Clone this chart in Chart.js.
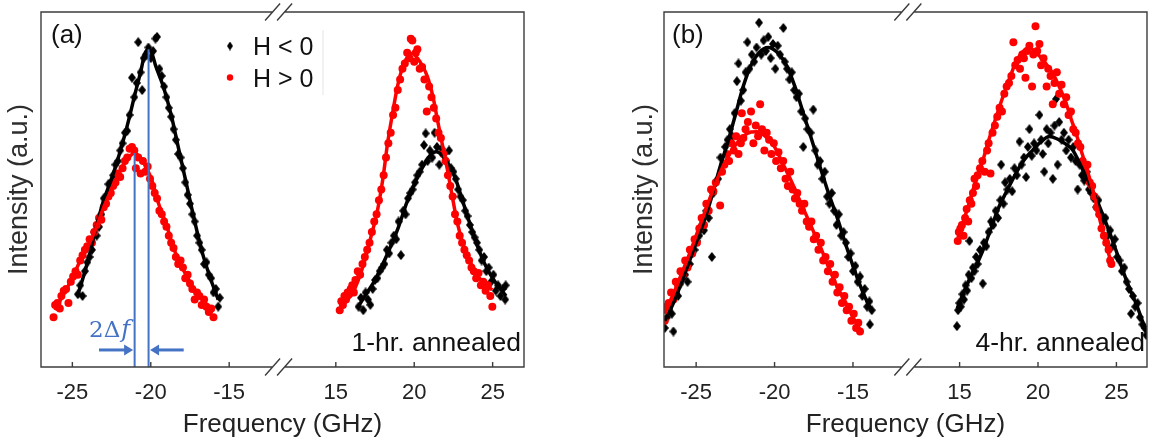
<!DOCTYPE html>
<html><head><meta charset="utf-8">
<script src="https://cdn.jsdelivr.net/npm/chart.js@4/dist/chart.umd.min.js"></script>
<style>
html,body{margin:0;padding:0;background:#fff;}
#wrap{position:relative;width:1158px;height:441px;overflow:hidden;}
canvas{position:absolute;top:0;}
</style></head><body>
<div id="wrap"><canvas id="ca" width="580" height="441" style="left:0"></canvas><canvas id="cb" width="578" height="441" style="left:580px"></canvas></div>
<script>
// ---------- data (frequency in GHz, intensity in a.u. 0-100) ----------
const freqTicks = [-25, -20, -15, 15, 20, 25];
const seriesNames = ['H < 0', 'H > 0'];

// Panel (a): 1-hr. annealed
const aNegPts = [[-24.65,20.5],[-24.5,23],[-24.35,20],[-24.2,27],[-24.05,29.5],[-23.9,31],[-23.75,33],[-23.6,38],[-23.45,37],[-23.3,39.5],[-23.15,43],[-23.0,47.5],[-22.85,48],[-22.7,51.5],[-22.55,52],[-22.4,54],[-22.25,57],[-22.1,58],[-21.95,61],[-21.8,63],[-21.65,66],[-21.5,66.5],[-21.35,71],[-21.2,81.5],[-21.05,76],[-20.9,80],[-20.8,91.5],[-20.65,83],[-20.55,78],[-20.45,87],[-20.3,88],[-20.15,90],[-20.0,87],[-19.85,89],[-19.7,92.5],[-19.6,93],[-19.45,84],[-19.3,82],[-19.15,79],[-19.0,76],[-18.85,73],[-18.7,70.5],[-18.55,67],[-18.4,64],[-18.25,60],[-18.1,59],[-17.95,56],[-17.8,52],[-17.65,48.5],[-17.5,46],[-17.35,43],[-17.2,41],[-17.05,37],[-16.9,35],[-16.75,33],[-16.6,29],[-16.45,29.5],[-16.3,26],[-16.15,25],[-16.0,21],[-15.85,22],[-15.7,17],[-15.6,19.5],
 [16.45,17],[16.6,19.5],[16.75,16],[16.9,21],[17.05,19],[17.2,17.5],[17.35,22],[17.5,24.5],[17.65,25],[17.8,27],[17.95,28],[18.1,29],[18.25,33],[18.4,32],[18.55,35],[18.7,37],[18.85,36],[19.0,41],[19.15,31.5],[19.3,44],[19.45,43],[19.6,47.5],[19.75,49],[19.9,50],[20.05,52],[20.2,54],[20.35,55],[20.5,57],[20.62,62.5],[20.73,65.8],[20.85,58],[21.0,61],[21.15,59],[21.3,66],[21.45,62],[21.6,57],[21.75,61.5],[21.9,60],[22.05,58],[22.22,61],[22.35,56],[22.5,55],[22.65,53],[22.8,50],[22.95,48],[23.1,47],[23.25,44],[23.4,42.5],[23.55,40],[23.7,38],[23.85,36.5],[24.0,35],[24.15,33],[24.3,30],[24.45,31],[24.6,27],[24.75,28],[24.9,24],[25.05,26],[25.2,21.5],[25.35,23],[25.5,20],[25.65,22],[25.83,23],[25.8,19]];
const aPosPts = [[-26.2,14],[-26.1,17.5],[-25.95,18],[-25.8,16.5],[-25.7,20],[-25.55,21.5],[-25.4,22],[-25.25,18],[-25.1,24],[-24.95,25.5],[-24.8,27],[-24.65,26],[-24.5,30],[-24.35,31.5],[-24.2,33],[-24.05,34],[-23.9,36],[-23.75,35],[-23.6,38],[-23.45,40],[-23.3,42],[-23.15,41.5],[-23.0,45],[-22.85,46],[-22.7,48],[-22.55,49],[-22.4,51],[-22.25,52],[-22.1,54.5],[-21.95,53.5],[-21.8,56],[-21.65,58],[-21.5,59],[-21.35,61.5],[-21.2,62],[-21.05,61],[-20.95,56],[-20.8,59],[-20.65,54.5],[-20.5,58],[-20.35,55],[-20.2,56.5],[-20.05,53],[-19.9,51],[-19.75,49],[-19.6,47.5],[-19.45,44],[-19.3,43],[-19.15,41],[-19.0,39.5],[-18.85,37],[-18.7,35],[-18.55,33.5],[-18.4,31],[-18.25,29],[-18.1,30],[-17.95,28],[-17.8,25],[-17.65,26],[-17.5,23.5],[-17.35,22],[-17.2,19],[-17.05,21],[-16.9,20],[-16.75,17.5],[-16.6,19],[-16.45,17],[-16.3,15.5],[-16.15,16.5],[-16.0,14],
 [15.25,16],[15.35,18.5],[15.45,17.5],[15.55,20],[15.65,19],[15.75,21],[15.85,20.5],[15.95,22],[16.05,23],[16.15,21],[16.25,24.5],[16.4,27],[16.55,26],[16.7,29],[16.85,31],[17.0,33],[17.15,35],[17.3,38],[17.45,41],[17.6,43],[17.75,47],[17.9,50],[18.05,54],[18.2,59],[18.35,63],[18.5,66],[18.65,71],[18.8,73],[18.95,78],[19.1,81],[19.25,84],[19.4,85.5],[19.55,88.5],[19.7,87],[19.78,92.5],[19.88,92],[20.0,86],[20.1,88.5],[20.2,89.5],[20.35,84],[20.5,84.5],[20.65,81],[20.8,72],[20.95,79],[21.1,76],[21.25,73],[21.4,70],[21.55,66],[21.7,64.5],[21.85,60],[22.0,58],[22.15,54],[22.3,51],[22.45,48],[22.6,43],[22.75,41],[22.9,37],[23.05,35],[23.2,33],[23.35,31.5],[23.5,30],[23.65,28],[23.8,27],[23.95,25],[24.1,26.5],[24.25,23],[24.4,24],[24.55,21.5],[24.7,23],[24.85,20],[24.98,17]];
const aNegFit = [[-24.6,21],[-24.0,30],[-23.5,39],[-23.0,47],[-22.5,53],[-22.0,60],[-21.5,68],[-21.0,77],[-20.6,84],[-20.4,88],[-20.15,89.5],[-19.9,88],[-19.7,85],[-19.2,79],[-18.7,71],[-18.2,61],[-17.7,51],[-17.2,41],[-16.7,32],[-16.2,25],[-15.7,19],
 [16.5,17.5],[17.0,21],[17.5,24.5],[18.0,29],[18.5,34],[19.0,39.5],[19.5,46],[20.0,51.5],[20.5,56],[21.0,59.5],[21.4,60.6],[21.8,59.5],[22.2,57],[22.6,53.5],[23.0,48],[23.5,41],[24.0,34.5],[24.5,29],[25.0,25],[25.5,22],[25.85,20]];
const aPosFit = [[-26.1,16],[-25.5,21],[-25.0,25],[-24.5,30],[-24.0,34],[-23.5,39],[-23.0,45],[-22.5,50],[-22.0,55],[-21.5,58.5],[-21.03,60.3],[-20.6,58.5],[-20.0,53.5],[-19.5,46],[-19.0,40],[-18.5,33],[-18.0,28],[-17.5,24],[-17.0,20.5],[-16.5,18],[-16.0,15.5],
 [15.3,17],[15.75,18.9],[16.2,22],[16.8,29.3],[17.2,36],[17.66,44.2],[18.0,53],[18.3,63],[18.6,71],[18.93,79],[19.3,85],[19.6,87.5],[19.89,88.4],[20.2,87],[20.5,85],[20.84,81.8],[21.2,76],[21.48,69.6],[21.8,62.5],[22.12,55.5],[22.45,47.5],[22.75,40.5],[23.2,33.5],[23.6,29.3],[24.0,26],[24.45,23.6],[24.98,21.7]];
// shift marker (2Δf) in panel (a)
const shiftFreqs = [-21.03, -20.14];
const shiftPeaks = [60.3, 89.5];
const arrowTails = [-23.3, -17.9];
const arrowLevel = 4.8;

// Panel (b): 4-hr. annealed
const bNegPts = [[-27.0,11],[-26.85,14],[-26.7,16.5],[-26.55,15],[-26.45,10],[-26.3,21],[-26.15,20],[-26.0,23.5],[-25.85,25],[-25.7,26],[-25.55,24],[-25.4,29],[-25.25,32],[-25.1,33],[-24.95,35.5],[-24.8,37],[-24.65,40],[-24.5,38.5],[-24.35,44],[-24.2,42],[-24.0,31],[-23.9,49],[-23.75,52],[-23.6,53],[-23.45,59],[-23.3,57],[-23.15,62],[-23.0,64],[-22.85,67],[-22.7,65],[-22.55,71.5],[-22.4,80.5],[-22.3,85.5],[-22.15,75],[-22.0,78],[-21.85,83],[-21.73,91.5],[-21.6,84],[-21.45,88],[-21.3,86],[-21.15,90],[-20.99,97],[-20.85,88],[-20.7,92],[-20.55,89],[-20.4,93],[-20.25,87],[-20.1,91],[-19.95,84],[-19.8,90.5],[-19.65,88],[-19.44,95.5],[-19.35,86],[-19.2,84],[-19.05,81],[-18.9,83],[-18.75,78],[-18.6,76],[-18.45,77],[-18.3,72],[-18.17,62],[-18.05,70],[-17.9,67],[-17.7,66],[-17.53,72.5],[-17.4,61],[-17.25,57],[-17.1,58],[-16.95,53],[-16.8,55],[-16.65,48],[-16.5,46],[-16.35,49],[-16.2,44],[-16.05,40],[-15.9,43],[-15.75,37],[-15.6,38],[-15.45,35],[-15.3,31],[-15.15,32],[-15.0,27],[-14.85,28.5],[-14.7,24],[-14.55,25.5],[-14.4,20],[-14.25,22],[-14.1,17],[-13.95,18.5],[-13.92,12],[-13.8,16],
 [14.83,11.5],[14.9,16],[14.98,18],[15.08,17],[15.18,20.5],[15.28,19],[15.38,23],[15.48,21.5],[15.58,26],[15.63,35.5],[15.75,25],[15.85,28],[15.95,27],[16.05,31],[16.15,29],[16.3,33],[16.48,23.5],[16.55,35],[16.7,34],[16.85,38],[17.0,41],[17.15,40],[17.3,44],[17.45,42],[17.6,47],[17.65,57],[17.8,46],[17.9,52],[18.05,50],[18.2,53],[18.35,49.5],[18.5,56],[18.65,54],[18.82,63.5],[18.95,57],[19.1,59],[19.24,53.5],[19.35,62],[19.45,67],[19.6,59.5],[19.75,63],[19.9,61],[20.09,71],[20.2,64],[20.3,60],[20.4,55],[20.55,67],[20.65,63],[20.8,66],[20.94,53],[21.05,68],[21.15,75.5],[21.25,57],[21.35,69],[21.5,64],[21.65,66],[21.8,61],[21.95,64],[22.1,59],[22.25,62],[22.4,58],[22.53,50],[22.65,57],[22.8,54],[22.95,52.5],[23.1,55],[23.25,50],[23.4,49],[23.55,47.5],[23.7,45],[23.85,47],[24.0,43],[24.15,41],[24.3,42],[24.45,37],[24.6,38.5],[24.75,34],[24.9,36],[25.05,31],[25.2,30],[25.35,27],[25.5,28],[25.65,24],[25.8,22],[25.93,15],[26.05,20],[26.2,17],[26.35,18],[26.5,14],[26.65,12],[26.8,11],[26.9,9]];
const bPosPts = [[-27.0,13],[-26.9,17],[-26.75,18],[-26.6,21],[-26.45,19],[-26.3,24],[-26.15,23],[-26.0,27],[-25.85,26],[-25.7,30],[-25.55,28],[-25.4,33],[-25.25,32],[-25.1,36],[-24.95,35],[-24.8,39],[-24.65,42],[-24.5,40],[-24.35,46],[-24.2,44],[-24.05,50],[-23.9,49.5],[-23.75,52],[-23.47,45.5],[-23.35,55],[-23.2,57],[-23.05,60],[-22.9,58],[-22.75,63],[-22.6,61],[-22.45,65],[-22.3,60],[-22.15,63],[-22.09,71.5],[-21.99,64.5],[-21.85,67],[-21.7,69],[-21.5,72],[-21.35,63],[-21.2,68],[-21.05,65],[-20.92,74],[-20.8,67],[-20.65,61],[-20.5,66],[-20.35,64],[-20.2,60],[-20.05,63],[-19.9,58],[-19.75,60.5],[-19.6,56],[-19.45,58],[-19.3,53],[-19.15,51],[-19.0,55],[-18.85,50],[-18.7,47.5],[-18.55,49],[-18.4,46],[-18.25,44],[-18.1,46],[-17.95,41],[-17.8,39.5],[-17.65,41],[-17.5,36],[-17.35,37],[-17.2,33],[-17.05,35],[-16.9,30],[-16.75,31],[-16.6,27],[-16.45,29],[-16.3,24],[-16.15,26],[-16.0,21],[-15.85,22.5],[-15.7,18],[-15.55,20],[-15.4,16],[-15.25,17],[-15.1,13],[-14.95,15],[-14.8,11],[-14.66,12.5],[-14.55,10],
 [14.88,35.5],[14.95,38],[15.05,39],[15.15,40],[15.25,37],[15.35,42],[15.45,44.5],[15.55,41],[15.65,47],[15.75,46],[15.85,49],[15.95,53],[16.05,51],[16.15,54],[16.3,56],[16.45,58],[16.6,55],[16.75,61],[16.85,63],[16.97,54.5],[17.1,66],[17.25,68],[17.4,70.5],[17.55,73],[17.7,72],[17.85,77],[18.0,79],[18.15,80],[18.3,82],[18.43,91.5],[18.55,85],[18.7,86.5],[18.85,84],[19.0,88],[19.1,87],[19.2,81.5],[19.3,89],[19.45,90.5],[19.62,79],[19.7,88],[19.84,96],[19.95,89],[20.09,91],[20.2,85],[20.35,87],[20.55,79],[20.65,84],[20.8,82],[20.94,74],[21.05,80],[21.2,83],[21.35,77],[21.5,79.5],[21.65,74],[21.8,76],[21.95,71],[22.1,72],[22.25,67],[22.4,66],[22.55,63],[22.7,62],[22.85,58],[23.0,56],[23.15,57],[23.3,52],[23.45,51],[23.6,48],[23.75,45],[23.9,43],[24.05,39],[24.2,37],[24.35,35],[24.5,33],[24.6,30],[24.68,29]];
const bNegFit = [[-27.0,13],[-26.5,17.5],[-26.0,23],[-25.5,29],[-25.0,35],[-24.5,41],[-24.0,48],[-23.5,56],[-23.0,63],[-22.5,71],[-22.0,79],[-21.5,85],[-21.0,88.5],[-20.41,90],[-19.8,88.5],[-19.2,84.6],[-18.7,79],[-18.2,72],[-17.7,65],[-17.1,56.4],[-16.6,49.5],[-16.0,42],[-15.5,35],[-15.0,28.5],[-14.5,22.5],[-14.0,17.5],[-13.8,16],
 [14.85,16.5],[15.4,22.5],[16.0,28],[16.5,33],[17.0,39],[17.5,45],[18.0,49.5],[18.6,54.6],[19.1,58.3],[19.66,61.1],[20.2,63.5],[20.73,64.9],[21.2,64.3],[21.7,63],[22.21,61.1],[22.75,56.5],[23.28,51.7],[23.8,46.5],[24.34,40.5],[24.9,33.8],[25.4,27.3],[25.85,22],[26.25,17.9],[26.67,12.8],[26.9,10]];
const bPosFit = [[-27.0,15],[-26.5,20],[-26.0,25.5],[-25.5,31],[-25.0,37],[-24.5,43],[-24.0,49],[-23.5,54.5],[-23.0,59],[-22.5,62.5],[-22.0,65],[-21.5,66.2],[-21.13,66.3],[-20.6,65],[-20.0,62],[-19.5,57.5],[-19.0,53],[-18.5,48],[-18.0,43],[-17.5,38],[-17.0,33],[-16.5,27.5],[-16.0,22.5],[-15.5,18.5],[-15.0,14],[-14.55,10.5],
 [14.9,36.5],[15.2,40.5],[15.6,46],[16.0,52],[16.5,58.5],[16.9,64.5],[17.3,70],[17.75,76],[18.2,81.5],[18.6,86],[19.0,88.7],[19.45,89.8],[19.9,88.5],[20.4,86],[20.94,82.7],[21.4,78.5],[21.79,74.3],[22.1,70],[22.43,65.8],[22.75,61],[23.07,56.4],[23.4,51.5],[23.7,46.1],[24.0,40.5],[24.34,34.8],[24.66,29.2]];

// ---------- helpers ----------
const OFFSET = 23.2;            // width of the removed (broken) frequency range
const FONT = "'Liberation Sans', Arial, Helvetica, sans-serif";
const TXT = '#222222';
const BLUE = '#4472C4';
const RED = '#ff0000';
const xi = f => (f > 0 ? f - OFFSET : f);
const toPts = arr => arr.map(p => ({x: xi(p[0]), y: p[1]}));
function toLine(arr) {
  const out = [];
  for (let k = 0; k < arr.length; k++) {
    if (k > 0 && Math.sign(arr[k][0]) !== Math.sign(arr[k-1][0])) {
      out.push({x: (xi(arr[k][0]) + xi(arr[k-1][0])) / 2, y: null});
    }
    out.push({x: xi(arr[k][0]), y: arr[k][1]});
  }
  return out;
}
function diamond(w, h, color) {
  const c = document.createElement('canvas'); c.width = w; c.height = h;
  const g = c.getContext('2d'); g.fillStyle = color; g.beginPath();
  g.moveTo(w/2, 0); g.lineTo(w, h/2); g.lineTo(w/2, h); g.lineTo(0, h/2); g.closePath(); g.fill();
  return c;
}
const dia = diamond(8, 10, '#000');
const diaSmall = diamond(6, 9, '#000');

const decoPlugin = {
  id: 'deco',
  afterDraw(chart, args, o) {
    const {ctx, chartArea: {left, right, top, bottom}, scales: {x, y}} = chart;
    ctx.save();
    // frame with axis break
    const bx = x.getPixelForValue(o.breakAt);
    const g = 6;
    ctx.strokeStyle = '#3c3c3c'; ctx.lineWidth = 1.4; ctx.lineCap = 'butt';
    ctx.beginPath();
    ctx.moveTo(bx - g, top); ctx.lineTo(left, top); ctx.lineTo(left, bottom); ctx.lineTo(bx - g, bottom);
    ctx.moveTo(bx + g, top); ctx.lineTo(right, top); ctx.lineTo(right, bottom); ctx.lineTo(bx + g, bottom);
    for (const yy of [top, bottom]) for (const dx of [-g, g]) {
      ctx.moveTo(bx + dx - 7.5, yy + 8.5); ctx.lineTo(bx + dx + 7.5, yy - 8.5);
    }
    // inward tick marks
    for (const f of freqTicks) {
      const px = x.getPixelForValue(xi(f));
      ctx.moveTo(px, bottom); ctx.lineTo(px, bottom - 5);
    }
    ctx.stroke();
    // panel tag and annealing note
    ctx.fillStyle = '#111';
    ctx.font = '26px ' + FONT; ctx.textAlign = 'left'; ctx.textBaseline = 'middle';
    ctx.fillText(o.tag, left + o.tagDx, top + 24);
    ctx.font = '26.5px ' + FONT; ctx.textAlign = 'right'; ctx.textBaseline = 'alphabetic';
    ctx.fillText(o.note, right - o.noteDx, bottom - 16);
    if (o.legend) {
      const lx = left + 189;
      ctx.drawImage(diaSmall, lx - 3, 46 - 4.5);
      ctx.fillStyle = RED; ctx.beginPath(); ctx.arc(lx, 77.5, 3.2, 0, Math.PI * 2); ctx.fill();
      ctx.fillStyle = '#111'; ctx.font = '25px ' + FONT; ctx.textAlign = 'left';
      ctx.fillText(seriesNames[0], lx + 23, 55);
      ctx.fillText(seriesNames[1], lx + 23, 87);
      ctx.strokeStyle = '#e4e4e4'; ctx.lineWidth = 1;
      ctx.beginPath(); ctx.moveTo(lx + 93, 30); ctx.lineTo(lx + 93, 95); ctx.stroke();
    }
    if (o.shift) {
      const ay = y.getPixelForValue(arrowLevel);
      ctx.strokeStyle = BLUE; ctx.fillStyle = BLUE; ctx.lineWidth = 3;
      for (let k = 0; k < 2; k++) {
        const tip = x.getPixelForValue(shiftFreqs[k]) + (k === 0 ? -1.5 : 1.5);
        const tail = x.getPixelForValue(arrowTails[k]);
        const dir = Math.sign(tip - tail);
        ctx.beginPath(); ctx.moveTo(tail, ay); ctx.lineTo(tip - dir * 8, ay); ctx.stroke();
        ctx.beginPath(); ctx.moveTo(tip, ay); ctx.lineTo(tip - dir * 9, ay - 5.5); ctx.lineTo(tip - dir * 9, ay + 5.5); ctx.closePath(); ctx.fill();
      }
      // 2Δf label
      const lx = x.getPixelForValue(arrowTails[0]) - 10;
      const ly = ay - 13;
      ctx.textAlign = 'left'; ctx.textBaseline = 'alphabetic';
      ctx.font = "23px 'DejaVu Serif', 'Liberation Serif', serif";
      ctx.fillText('2Δ', lx, ly);
      const w = ctx.measureText('2Δ').width;
      ctx.font = "italic 24px 'DejaVu Serif', 'Liberation Serif', serif";
      ctx.fillText('f', lx + w + 1, ly);
    }
    ctx.restore();
  }
};

function makeChart(id, negPts, posPts, negFit, posFit, extra, o) {
  const datasets = [];
  if (extra) {
    shiftFreqs.forEach((f, k) => datasets.push({
      type: 'line', data: [{x: f, y: 0}, {x: f, y: shiftPeaks[k]}],
      borderColor: BLUE, borderWidth: 2, pointRadius: 0, fill: false
    }));
  }
  datasets.push(
    {type: 'line', label: seriesNames[1] + ' fit', data: toLine(posFit), borderColor: RED, borderWidth: 3.5, pointRadius: 0, fill: false, spanGaps: false, cubicInterpolationMode: 'monotone'},
    {type: 'line', label: seriesNames[0] + ' fit', data: toLine(negFit), borderColor: '#000', borderWidth: 3.5, pointRadius: 0, fill: false, spanGaps: false, cubicInterpolationMode: 'monotone'},
    {type: 'scatter', label: seriesNames[1], data: toPts(posPts), backgroundColor: RED, borderWidth: 0, pointRadius: 4, pointStyle: 'circle'},
    {type: 'scatter', label: seriesNames[0], data: toPts(negPts), backgroundColor: '#000', borderWidth: 0, pointStyle: dia, pointRadius: 4}
  );
  return new Chart(document.getElementById(id), {
    type: 'scatter',
    data: {datasets},
    options: {
      responsive: false, animation: false, devicePixelRatio: 1,
      layout: {padding: o.padding},
      plugins: {legend: {display: false}, tooltip: {enabled: false}, deco: o},
      scales: {
        x: {
          type: 'linear', min: o.xmin, max: o.xmax,
          grid: {display: false, drawTicks: false}, border: {display: false},
          afterBuildTicks: s => { s.ticks = freqTicks.map(f => ({value: xi(f)})); },
          ticks: {autoSkip: false, maxRotation: 0, padding: 13, color: TXT, font: {family: FONT, size: 22},
                  callback: (v, i) => String(freqTicks[i])},
          title: {display: true, text: 'Frequency (GHz)', color: TXT, font: {family: FONT, size: 26}, padding: {top: 0, bottom: 1}},
          afterFit: s => { s.height = 74; }
        },
        y: {
          min: 0, max: 100,
          ticks: {display: false}, grid: {display: false, drawTicks: false}, border: {display: false},
          title: {display: true, text: 'Intensity (a.u.)', color: '#2e2e2e', font: {family: FONT, size: 27}, padding: {top: 3, bottom: 0}},
          afterFit: s => { s.width = o.yw; }
        }
      }
    },
    plugins: [decoPlugin]
  });
}

makeChart('ca', aNegPts, aPosPts, aNegFit, aPosFit, true,
  {padding: {left: 0, right: 56, top: 12, bottom: 0}, yw: 41, xmin: -27.0, xmax: 3.8,
   breakAt: -11.85, tag: '(a)', tagDx: 10, note: '1-hr. annealed', noteDx: 3, legend: true, shift: true});
makeChart('cb', bNegPts, bPosPts, bNegFit, bPosFit, false,
  {padding: {left: 45, right: 11, top: 12, bottom: 0}, yw: 39, xmin: -27.05, xmax: 3.75,
   breakAt: -11.5, tag: '(b)', tagDx: 8, note: '4-hr. annealed', noteDx: 2, legend: false, shift: false});
</script>
</body></html>
